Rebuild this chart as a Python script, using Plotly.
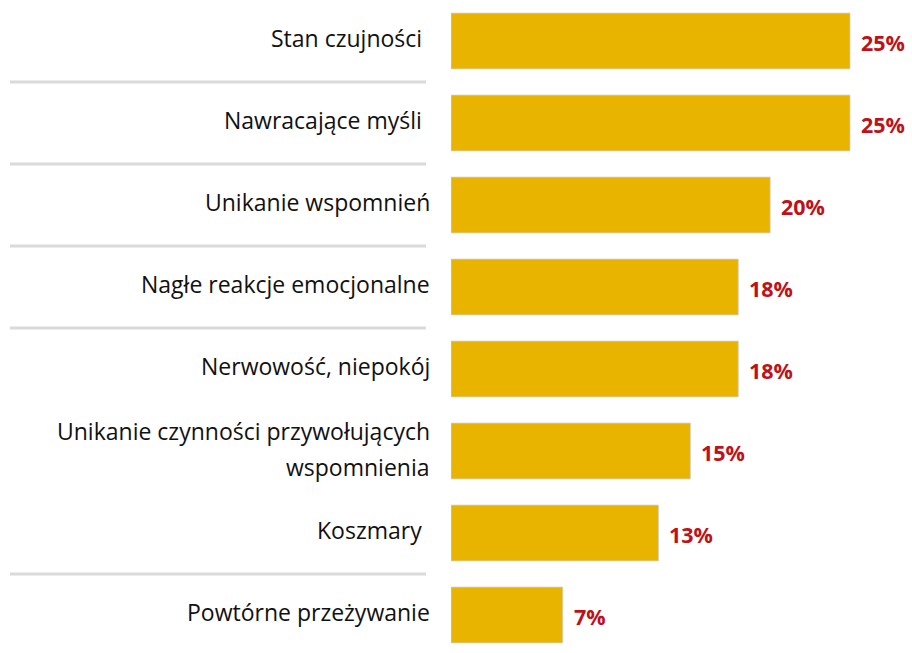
import plotly.graph_objects as go

categories = [
    "Stan czujności",
    "Nawracające myśli",
    "Unikanie wspomnień",
    "Nagłe reakcje emocjonalne",
    "Nerwowość, niepokój",
    "Unikanie czynności przywołujących<br>wspomnienia",
    "Koszmary",
    "Powtórne przeżywanie",
]
values = [25, 25, 20, 18, 18, 15, 13, 7]
value_labels = ["25%", "25%", "20%", "18%", "18%", "15%", "13%", "7%"]
# rows followed by a separator line
separator_after = [0, 1, 2, 3, 6]
# rows whose label carries a trailing space
trailing_space = [0, 1, 6]

W, H = 912, 653
LEFT = 451
positions = list(range(len(categories)))

fig = go.Figure()
fig.add_trace(go.Bar(
    x=values,
    y=positions,
    orientation="h",
    width=0.68,
    marker=dict(color="#E8B400", line=dict(color="#cfcfcf", width=0.8)),
    hoverinfo="skip",
))

label_font = dict(family="'Open Sans', sans-serif", size=23, color="#111111")
value_font = dict(family="'Open Sans', sans-serif", size=21.5, color="#C0101A")

for i, (cat, v, lab) in enumerate(zip(categories, values, value_labels)):
    lines = cat.split("<br>")
    xshift = -19 - (8 if i in trailing_space else 0)
    if len(lines) == 1:
        fig.add_annotation(x=0, y=i, xref="x", yref="y", text=cat, showarrow=False,
                           xanchor="right", yanchor="middle", xshift=xshift, yshift=3,
                           font=label_font)
    else:
        for k, ln in enumerate(lines):
            fig.add_annotation(x=0, y=i, xref="x", yref="y", text=ln, showarrow=False,
                               xanchor="right", yanchor="middle", xshift=xshift,
                               yshift=20 - 36 * k, font=label_font)
    fig.add_annotation(x=v, y=i, xref="x", yref="y", text=f"<b>{lab}</b>", showarrow=False,
                       xanchor="left", yanchor="middle", xshift=9, yshift=-1,
                       font=value_font)

plot_w = W - LEFT
for i in separator_after:
    fig.add_shape(type="line", xref="paper", yref="y",
                  x0=(10 - LEFT) / plot_w, x1=(426 - LEFT) / plot_w,
                  y0=i + 0.5, y1=i + 0.5,
                  line=dict(color="#dadada", width=3))

fig.update_layout(
    width=W, height=H,
    margin=dict(l=LEFT, r=0, t=0, b=0),
    plot_bgcolor="white", paper_bgcolor="white",
    showlegend=False,
    xaxis=dict(range=[0, plot_w / 15.96], visible=False),
    yaxis=dict(range=[(H - 41) / 82, -0.5], visible=False),
)

fig.write_html("out.html")
